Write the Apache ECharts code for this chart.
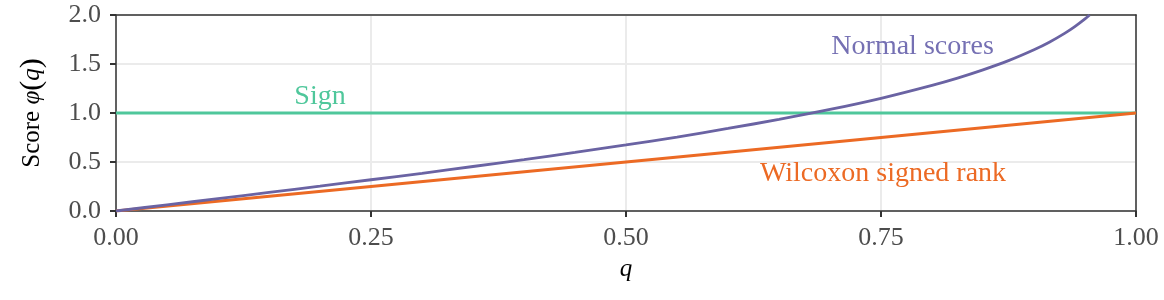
<!DOCTYPE html>
<html><head><meta charset="utf-8">
<script src="https://cdn.jsdelivr.net/npm/echarts@6/dist/echarts.min.js"></script>
<style>html,body{margin:0;padding:0;background:#fff}#c{width:1164px;height:300px}</style>
</head><body><div id="c"></div>
<script>
// q values (x) and read-off scores
const qValues = [0, 0.05, 0.1, 0.15, 0.2, 0.25, 0.3, 0.35, 0.4, 0.45, 0.5, 0.55, 0.6, 0.65, 0.7, 0.75, 0.8, 0.825, 0.85, 0.875, 0.9, 0.915, 0.93, 0.94, 0.95, 0.9545];
const normalScores = [0, 0.063, 0.126, 0.189, 0.253, 0.319, 0.385, 0.454, 0.524, 0.598, 0.674, 0.755, 0.842, 0.935, 1.036, 1.150, 1.282, 1.356, 1.440, 1.534, 1.645, 1.722, 1.812, 1.881, 1.960, 2.0];
const signQ = [0, 1];
const signScores = [1, 1];
const wilcoxonQ = [0, 1];
const wilcoxonScores = [0, 1];
const xTicks = [0, 0.25, 0.5, 0.75, 1];
const yTicks = [0, 0.5, 1, 1.5, 2];
const labelNames = ['Normal scores', 'Sign', 'Wilcoxon signed rank'];
const labelAnchors = [[0.781, 1.68], [0.2, 1.17], [0.752, 0.38]];

const FONT = '"Liberation Serif", "DejaVu Serif", serif';
const cPurple = '#6a63a3', cGreen = '#4fc79b', cOrange = '#ec6a24';
const labelColors = ['#7570b3', cGreen, cOrange];
const zip = (a, b) => a.map((v, i) => [v, b[i]]);

const chart = echarts.init(document.getElementById('c'), null, {renderer: 'canvas'});
const axisLineStyle = {show: true, onZero: false, lineStyle: {color: '#333', width: 1.5}};
chart.setOption({
  animation: false,
  grid: {left: 116, right: 28, top: 15, bottom: 89},
  xAxis: [{
    type: 'value', min: xTicks[0], max: xTicks[xTicks.length - 1], interval: 0.25,
    name: 'q', nameLocation: 'middle', nameGap: 46,
    nameTextStyle: {fontFamily: FONT, fontStyle: 'italic', fontSize: 25, color: '#000'},
    axisLine: axisLineStyle,
    axisTick: {show: true, length: 6, lineStyle: {color: '#333', width: 2}},
    axisLabel: {fontFamily: FONT, fontSize: 26, color: '#4d4d4d', margin: 14, formatter: v => v.toFixed(2)},
    splitLine: {show: true, lineStyle: {color: '#ebebeb', width: 2}}
  }, {
    type: 'value', position: 'top', min: 0, max: 1, interval: 0.25,
    axisLine: axisLineStyle, axisTick: {show: false}, axisLabel: {show: false}, splitLine: {show: false}
  }],
  yAxis: [{
    type: 'value', min: yTicks[0], max: yTicks[yTicks.length - 1], interval: 0.5,
    name: '{t|Score }{v|φ}{p|(}{v|q}{p|)}', nameLocation: 'middle', nameGap: 69, nameRotate: 90,
    nameTextStyle: {
      rich: {
        t: {fontFamily: FONT, fontSize: 25, color: '#000'},
        v: {fontFamily: FONT, fontSize: 25, color: '#000', fontStyle: 'italic'},
        p: {fontFamily: FONT, fontSize: 30, color: '#000'}
      }
    },
    axisLine: axisLineStyle,
    axisTick: {show: true, length: 6, lineStyle: {color: '#333', width: 2}},
    axisLabel: {fontFamily: FONT, fontSize: 26, color: '#4d4d4d', margin: 15, formatter: v => v.toFixed(1)},
    splitLine: {show: true, lineStyle: {color: '#ebebeb', width: 2}}
  }, {
    type: 'value', position: 'right', min: 0, max: 2, interval: 0.5,
    axisLine: axisLineStyle, axisTick: {show: false}, axisLabel: {show: false}, splitLine: {show: false}
  }],
  series: [
    {type: 'line', data: zip(signQ, signScores), showSymbol: false, lineStyle: {color: cGreen, width: 2.8}, z: 3},
    {type: 'line', data: zip(wilcoxonQ, wilcoxonScores), showSymbol: false, lineStyle: {color: cOrange, width: 2.8}, z: 4},
    {type: 'line', data: zip(qValues, normalScores), smooth: 0.3, showSymbol: false, lineStyle: {color: cPurple, width: 2.8}, z: 5}
  ]
});
const texts = labelNames.map((name, i) => {
  const p = chart.convertToPixel({xAxisIndex: 0, yAxisIndex: 0}, labelAnchors[i]);
  return {type: 'text', x: p[0], y: p[1], z: 10,
    style: {text: name, fill: labelColors[i], font: '28px ' + FONT, textAlign: 'center', textVerticalAlign: 'middle'}};
});
chart.setOption({graphic: texts});
</script></body></html>
